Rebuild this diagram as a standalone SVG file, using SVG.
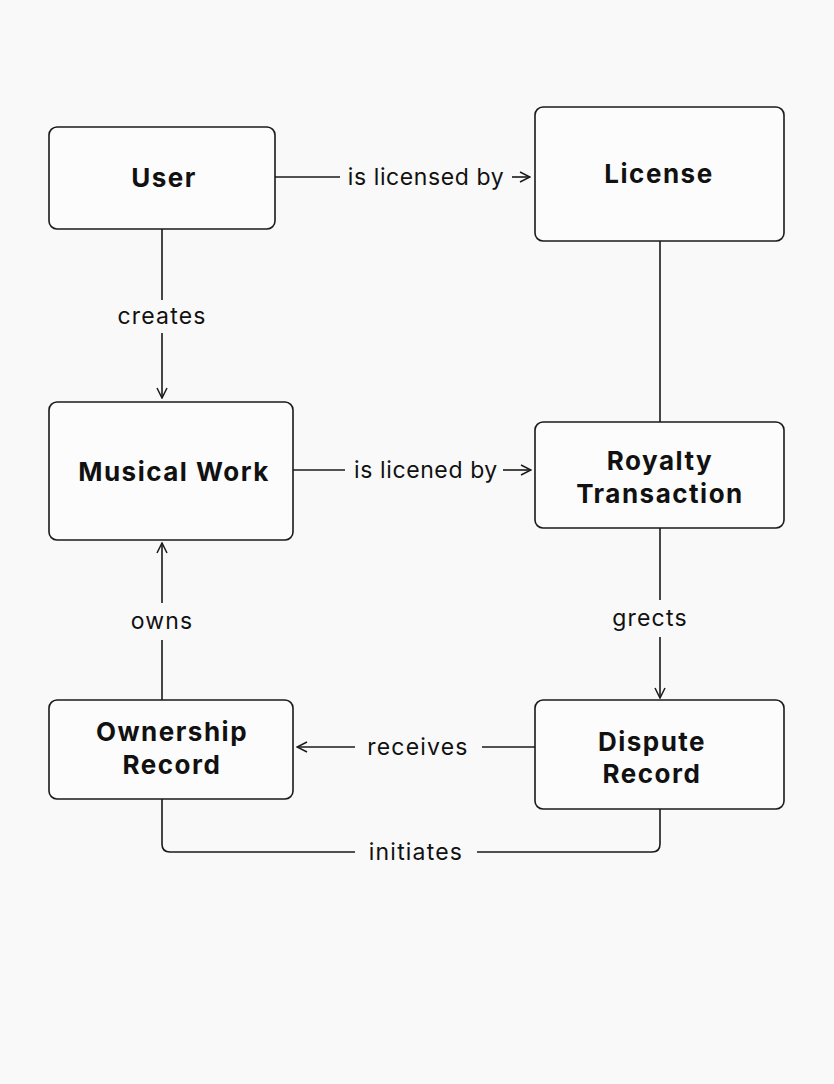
<svg xmlns="http://www.w3.org/2000/svg" width="834" height="1084" viewBox="0 0 834 1084">
<defs>
<style>
.node rect{fill:#fcfcfc;stroke:#1a1a1a;stroke-width:1.6}
.node text{font-family:Inter,"Noto Sans",sans-serif;font-weight:700;font-size:26px;letter-spacing:1.5px;fill:#111;text-anchor:middle}
.edge{fill:none;stroke:#1a1a1a;stroke-width:1.6}
.lbl{font-family:Inter,"Noto Sans",sans-serif;font-size:23px;letter-spacing:1.2px;fill:#111;text-anchor:middle}
.lbl.tight{letter-spacing:0.6px}
</style>
<marker id="arr" viewBox="0 0 12 12" refX="11" refY="6" markerWidth="12" markerHeight="12" markerUnits="userSpaceOnUse" orient="auto">
<path d="M1,1 L11,6 L1,11" fill="none" stroke="#1a1a1a" stroke-width="1.5"/>
</marker>
</defs>
<rect x="0" y="0" width="834" height="1084" fill="#f9f9f9"/>
<g id="connectors">
<path class="edge" d="M275,177 H340"/>
<path class="edge" d="M512,177 H530" marker-end="url(#arr)"/>
<text class="lbl tight" x="426" y="185">is licensed by</text>
<path class="edge" d="M162,229 V300"/>
<path class="edge" d="M162,333 V398" marker-end="url(#arr)"/>
<text class="lbl" x="162" y="324">creates</text>
<path class="edge" d="M660,241 V422"/>
<path class="edge" d="M293,470 H345"/>
<path class="edge" d="M503,470 H531" marker-end="url(#arr)"/>
<text class="lbl tight" x="426" y="478">is licened by</text>
<path class="edge" d="M660,528 V600"/>
<path class="edge" d="M660,637 V698" marker-end="url(#arr)"/>
<text class="lbl" x="650" y="626">grects</text>
<path class="edge" d="M162,700 V640"/>
<path class="edge" d="M162,603 V543" marker-end="url(#arr)"/>
<text class="lbl" x="162" y="629">owns</text>
<path class="edge" d="M535,747 H482"/>
<path class="edge" d="M355,747 H297" marker-end="url(#arr)"/>
<text class="lbl" x="418" y="755">receives</text>
<path class="edge" d="M162,799 V844 Q162,852 170,852 H355"/>
<path class="edge" d="M477,852 H652 Q660,852 660,844 V809"/>
<text class="lbl" x="416" y="860">initiates</text>
</g>
<g id="user" class="node"><rect x="49" y="127" width="226" height="102" rx="8"/><text x="164" y="187">User</text></g>
<g id="license" class="node"><rect x="535" y="107" width="249" height="134" rx="8"/><text x="659" y="183">License</text></g>
<g id="musical-work" class="node"><rect x="49" y="402" width="244" height="138" rx="8"/><text x="174" y="481">Musical Work</text></g>
<g id="royalty-transaction" class="node"><rect x="535" y="422" width="249" height="106" rx="8"/><text x="660" y="470">Royalty</text><text x="660" y="503">Transaction</text></g>
<g id="ownership-record" class="node"><rect x="49" y="700" width="244" height="99" rx="8"/><text x="172" y="741">Ownership</text><text x="172" y="774">Record</text></g>
<g id="dispute-record" class="node"><rect x="535" y="700" width="249" height="109" rx="8"/><text x="652" y="751">Dispute</text><text x="652" y="783">Record</text></g>
</svg>
